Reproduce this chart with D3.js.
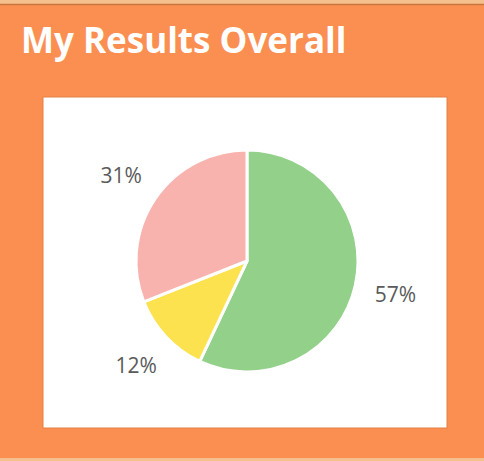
<!DOCTYPE html>
<html>
<head>
<meta charset="utf-8">
<script src="https://cdn.jsdelivr.net/npm/d3@7"></script>
<style>
  body { margin: 0; background: #f6c08e; }
  svg { display: block; }
</style>
</head>
<body>
<div class="chart"></div>
<script>
// data
var categories = ["Green", "Yellow", "Pink"];
var values = [57, 12, 31];
var labels = ["57%", "12%", "31%"];
var colors = ["#93d08a", "#fbe24e", "#f8b3ae"];

var svgWidth = 484;
var svgHeight = 461;

var svg = d3.select(".chart")
  .append("svg")
  .attr("width", svgWidth)
  .attr("height", svgHeight);

// orange card
svg.append("rect")
  .attr("x", 0).attr("y", 4)
  .attr("width", svgWidth).attr("height", 454)
  .attr("fill", "#fb8f51");
svg.append("line")
  .attr("x1", 0).attr("x2", svgWidth)
  .attr("y1", 4.5).attr("y2", 4.5)
  .attr("stroke", "#c8743c").attr("stroke-width", 1.5);

svg.append("text")
  .attr("x", 21)
  .attr("y", 53)
  .attr("fill", "#ffffff")
  .style("font-family", "'Open Sans', sans-serif")
  .style("font-weight", "bold")
  .style("font-size", "35px")
  .text("My Results Overall");

// white panel
svg.append("rect")
  .attr("x", 43).attr("y", 97)
  .attr("width", 404).attr("height", 331)
  .attr("fill", "#ffffff")
  .attr("stroke", "#e58045").attr("stroke-width", 1);

var cx = 247, cy = 261, radius = 111;
var chart = svg.append("g")
  .attr("transform", "translate(" + cx + "," + cy + ")");

var pie = d3.pie().sort(null).value(function(d) { return d; });
var arcs = pie(values);
var arc = d3.arc().innerRadius(0).outerRadius(radius);
var labelArc = d3.arc().innerRadius(152).outerRadius(152);

chart.selectAll("path")
  .data(arcs)
  .enter()
  .append("path")
  .attr("d", arc)
  .attr("fill", function(d, i) { return colors[i]; })
  .attr("stroke", "#ffffff")
  .attr("stroke-width", 3)
  .attr("stroke-linejoin", "round");

chart.selectAll(".lbl")
  .data(arcs)
  .enter()
  .append("text")
  .attr("class", "lbl")
  .attr("transform", function(d) { return "translate(" + labelArc.centroid(d) + ")"; })
  .attr("text-anchor", "middle")
  .attr("dy", "0.36em")
  .style("font-family", "'Open Sans', sans-serif")
  .style("font-size", "21px")
  .attr("fill", "#5a5a5a")
  .text(function(d, i) { return labels[i]; });
</script>
</body>
</html>
